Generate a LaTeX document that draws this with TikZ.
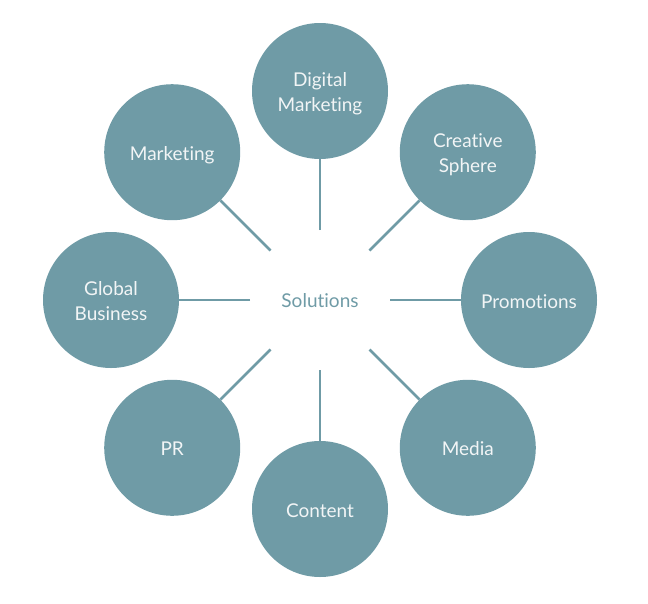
\documentclass[tikz,border=0pt]{standalone}
\usepackage{fontspec}
\setmainfont{Lato}[Ligatures={NoCommon}]
\usetikzlibrary{calc}
\definecolor{teal1}{HTML}{6F9BA6}
\definecolor{txt}{HTML}{F2F5F6}
\newcommand{\blab}[1]{\raisebox{-3pt}[\height][\depth]{\begin{tabular}{@{}c@{}}#1\end{tabular}}}
\begin{document}
\begin{tikzpicture}[x=1pt,y=-1pt,
  bub/.style={circle,fill=teal1,draw=none,minimum size=136pt,inner sep=0pt,text=txt,font=\fontsize{19}{25}\selectfont,align=center},
  spoke/.style={draw=teal1,line width=2.8pt}]
\useasboundingbox (0,0) rectangle (648,603);
\node[text=teal1,font=\fontsize{19}{25}\selectfont] (sol) at (320,300) {\raisebox{-1pt}[\height][\depth]{Solutions}};
\foreach \ang/\name/\lab in {90/dm/{Digital\\Marketing},45/cs/{Creative\\Sphere},0/pr/{Promotions},-45/me/{Media},-90/co/{Content},-135/prr/{PR},180/gb/{Global\\Business},135/mk/{Marketing}}{
  \node[bub] (\name) at ($(320,300)+(\ang:209pt)$) {\blab{\lab}};
  \coordinate (\name in) at ($(320,300)+(\ang:70pt)$);
  \draw[spoke] (\name in) -- (\name);
}
\end{tikzpicture}
\end{document}
